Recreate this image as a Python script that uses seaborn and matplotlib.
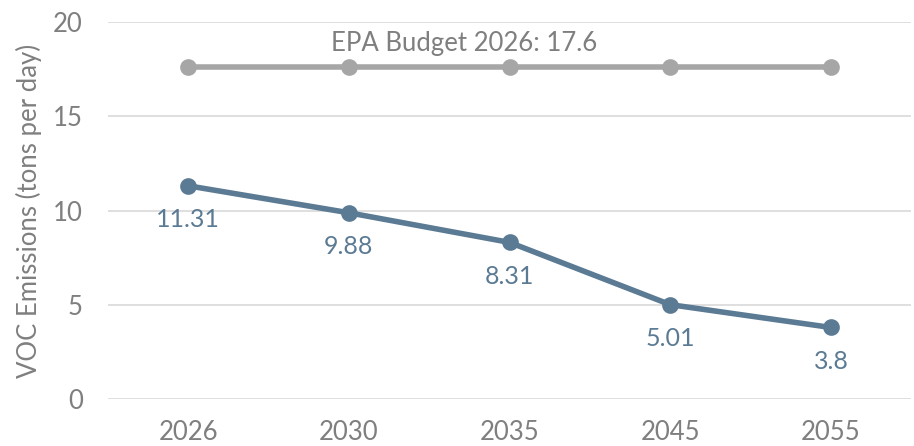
import matplotlib
matplotlib.use("Agg")
import matplotlib.pyplot as plt
import seaborn as sns
import pandas as pd

YEARS = ["2026", "2030", "2035", "2045", "2055"]
VOC_EMISSIONS = [11.31, 9.88, 8.31, 5.01, 3.8]
EPA_BUDGET = [17.6, 17.6, 17.6, 17.6, 17.6]
BUDGET_LABEL = "EPA Budget 2026: 17.6"
Y_TICKS = [0, 5, 10, 15, 20]

BLUE = "#5B7A93"
GRAY = "#A6A6A6"
TEXT_GRAY = "#7F7F7F"


def main() -> None:
    sns.set_theme(style="white")
    plt.rcParams["font.family"] = ["Lato", "DejaVu Sans"]

    df = pd.DataFrame({"year": YEARS, "voc": VOC_EMISSIONS, "budget": EPA_BUDGET})

    fig = plt.figure(figsize=(9.14, 4.46), dpi=100)
    ax = fig.add_axes([0.118, 0.105, 0.879, 0.846])

    sns.pointplot(data=df, x="year", y="budget", color=GRAY, ax=ax,
                  linewidth=4, markersize=9, errorbar=None)
    sns.pointplot(data=df, x="year", y="voc", color=BLUE, ax=ax,
                  linewidth=4, markersize=9, errorbar=None)

    for i, v in enumerate(VOC_EMISSIONS):
        ax.annotate(f"{v:g}", (i, v), xytext=(0, -16), textcoords="offset points",
                    ha="center", va="top", color=BLUE, fontsize=18)

    ax.annotate(BUDGET_LABEL, (1.72, EPA_BUDGET[0]), xytext=(0, 8),
                textcoords="offset points", ha="center", va="bottom",
                color=TEXT_GRAY, fontsize=18.5)

    ax.set_xlim(-0.5, len(YEARS) - 0.5)
    ax.set_ylim(0, 20)
    ax.set_yticks(Y_TICKS)
    ax.yaxis.grid(True, color="#D9D9D9", linewidth=1.2)
    ax.set_axisbelow(True)
    for side in ["top", "right", "left", "bottom"]:
        ax.spines[side].set_visible(False)
    ax.tick_params(axis="y", length=0, pad=18, labelsize=18.5, labelcolor=TEXT_GRAY)
    ax.tick_params(axis="x", length=0, pad=15, labelsize=18.5, labelcolor=TEXT_GRAY)
    ax.set_xlabel("")
    ax.set_ylabel("VOC Emissions (tons per day)", fontsize=18.5, color=TEXT_GRAY, labelpad=8)

    fig.savefig("out.png", dpi=100)


if __name__ == "__main__":
    main()
